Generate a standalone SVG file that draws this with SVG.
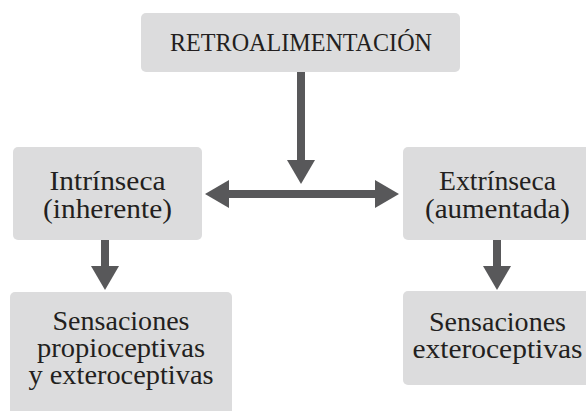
<svg xmlns="http://www.w3.org/2000/svg" width="586" height="411" viewBox="0 0 586 411">
  <defs>
    <style>
      .box { fill: #dcdcdd; }
      .txt { font-family: "Liberation Serif", "Times New Roman", serif; font-size: 28px; fill: #231f20; text-anchor: middle; }
      .title { font-size: 25px; }
      .conn { stroke: #58585a; stroke-width: 8; fill: none; }
    </style>
    <marker id="head" viewBox="0 0 24 28" refX="0" refY="14" markerWidth="24" markerHeight="28" markerUnits="userSpaceOnUse" orient="auto-start-reverse">
      <path d="M0,0 L24,14 L0,28 Z" fill="#58585a"/>
    </marker>
  </defs>
  <rect width="586" height="411" fill="#ffffff"/>

  <g id="connectors">
    <line class="conn" x1="301" y1="72" x2="301" y2="160" marker-end="url(#head)"/>
    <line class="conn" x1="229" y1="194" x2="375" y2="194" marker-start="url(#head)" marker-end="url(#head)"/>
    <line class="conn" x1="105" y1="240" x2="105" y2="266" marker-end="url(#head)"/>
    <line class="conn" x1="497" y1="240" x2="497" y2="266" marker-end="url(#head)"/>
  </g>

  <g id="retroalimentacion">
    <rect class="box" x="141" y="13" width="319" height="59" rx="5"/>
    <text class="txt title" x="301" y="51" textLength="262" lengthAdjust="spacingAndGlyphs">RETROALIMENTACIÓN</text>
  </g>

  <g id="intrinseca">
    <rect class="box" x="13" y="147" width="189" height="93" rx="5"/>
    <text class="txt" x="107.5" y="190" textLength="116" lengthAdjust="spacingAndGlyphs">Intrínseca</text>
    <text class="txt" x="107.5" y="218" textLength="129" lengthAdjust="spacingAndGlyphs">(inherente)</text>
  </g>

  <g id="extrinseca">
    <rect class="box" x="403" y="147" width="189" height="93" rx="5"/>
    <text class="txt" x="497.5" y="190" textLength="117" lengthAdjust="spacingAndGlyphs">Extrínseca</text>
    <text class="txt" x="497.5" y="218" textLength="145" lengthAdjust="spacingAndGlyphs">(aumentada)</text>
  </g>

  <g id="sensaciones-propio">
    <rect class="box" x="10" y="292" width="222" height="130" rx="5"/>
    <text class="txt" x="121" y="330" textLength="137" lengthAdjust="spacingAndGlyphs">Sensaciones</text>
    <text class="txt" x="121" y="357" textLength="168" lengthAdjust="spacingAndGlyphs">propioceptivas</text>
    <text class="txt" x="121" y="384" textLength="185" lengthAdjust="spacingAndGlyphs">y exteroceptivas</text>
  </g>

  <g id="sensaciones-extero">
    <rect class="box" x="403" y="291" width="189" height="94" rx="5"/>
    <text class="txt" x="497.5" y="331" textLength="137" lengthAdjust="spacingAndGlyphs">Sensaciones</text>
    <text class="txt" x="497.5" y="358" textLength="170" lengthAdjust="spacingAndGlyphs">exteroceptivas</text>
  </g>
</svg>
